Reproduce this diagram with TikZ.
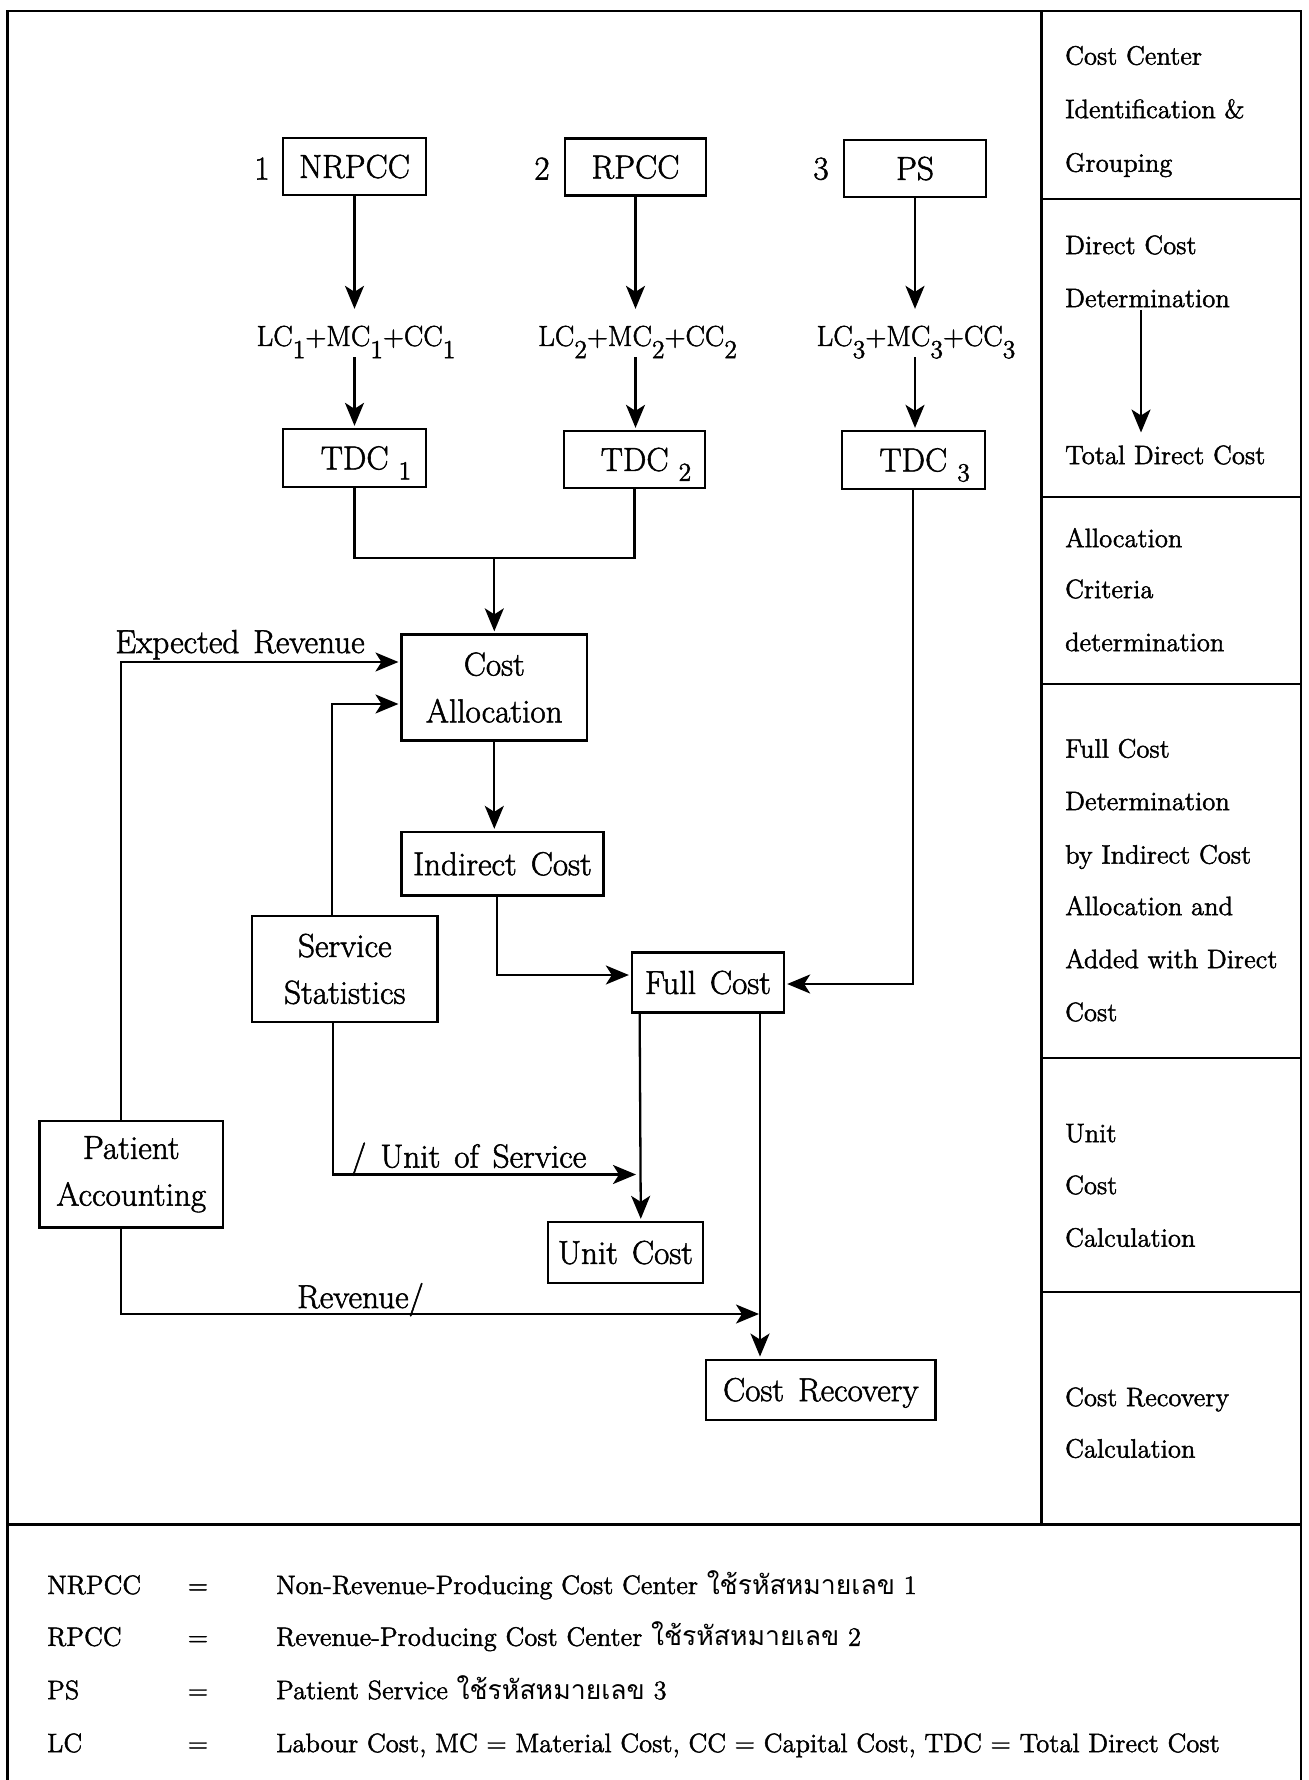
\documentclass[tikz,border=0pt]{standalone}
\usepackage{fontspec}
\setmainfont{Latin Modern Roman}[FakeBold=1.6]
\newfontfamily\thaifont[Script=Thai]{Loma}
\usetikzlibrary{arrows.meta,calc}
\newcommand{\lo}[2][0.42em]{\raisebox{-#1}{\fontsize{13}{13}\selectfont #2}}
\newcommand{\bxfont}{\fontsize{16.6}{23.4}\selectfont\spaceskip=0.42em plus 0.1em minus 0.05em\relax}
\newcommand{\smfont}{\fontsize{13.3}{15}\selectfont}
\newcommand{\fmfont}{\fontsize{14.5}{17}\selectfont}
\begin{document}
\begin{tikzpicture}[x=0.5pt,y=-0.5pt,
 line width=1.15pt,
 box/.style={draw,line width=1.15pt,inner sep=0pt,font=\bxfont,text height=11.4pt,text depth=0pt},
 boxtwo/.style={draw,line width=1.15pt,inner sep=0pt,font=\bxfont,align=center},
 fm/.style={inner sep=0pt,font=\fmfont,minimum height=22pt,text height=12pt,text depth=0pt},
 lbl/.style={inner sep=0pt,font=\bxfont,anchor=base},
 rc/.style={inner sep=0pt,font=\smfont,anchor=base west},
 arr/.style={-{Stealth[length=11.5pt,width=9.5pt,inset=3pt]},shorten >=1pt},
]
\useasboundingbox (0,0) rectangle (1308,1780);
% frame
\draw[line width=1.2pt] (7.5,1780) -- (7.5,11) -- (1301,11) -- (1301,1780);
\draw (1041.5,11) -- (1041.5,1524.5);
\draw[line width=1.2pt] (7.5,1524.5) -- (1301,1524.5);
\foreach \yy in {199,497,684,1058,1292} \draw (1041.5,\yy) -- (1301,\yy);

% top row
\node[box,minimum width=71.5pt,minimum height=28.5pt] (n1) at (354.5,166.5) {NRPCC};
\node[box,minimum width=70.5pt,minimum height=28.5pt] (n2) at (635.5,167) {RPCC};
\node[box,minimum width=71pt,minimum height=28.5pt] (n3) at (915,168.5) {PS};
\node[lbl] (k1) at (262,179.5) {1};
\node[lbl] (k2) at (542,179.5) {2};
\node[lbl] (k3) at (821,179.5) {3};

% formulas
\node[fm] (f1) at (356,334) {LC\lo{1}+MC\lo{1}+CC\lo{1}};
\node[fm] (f2) at (637.6,334) {LC\lo{2}+MC\lo{2}+CC\lo{2}};
\node[fm] (f3) at (916,334) {LC\lo{3}+MC\lo{3}+CC\lo{3}};

% TDC
\node[box,minimum width=71.5pt,minimum height=29pt] (t1) at (354.5,458) {\hspace*{11.5pt}TDC\hspace{0.3em}\lo[0.3em]{1}};
\node[box,minimum width=70.5pt,minimum height=28.5pt] (t2) at (634.5,459.5) {\hspace*{11.5pt}TDC\hspace{0.3em}\lo[0.3em]{2}};
\node[box,minimum width=71.5pt,minimum height=29pt] (t3) at (913.2,460) {\hspace*{11.5pt}TDC\hspace{0.3em}\lo[0.3em]{3}};

% middle boxes
\node[boxtwo,minimum width=92.7pt,minimum height=53pt] (ca) at (494.3,687.5) {Cost\\Allocation};
\node[box,minimum width=101pt,minimum height=31.8pt] (ic) at (502.5,863.8) {Indirect Cost};
\node[box,minimum width=76pt,minimum height=30pt] (fc) at (708,982.5) {Full Cost};
\node[boxtwo,minimum width=92.75pt,minimum height=53pt] (ss) at (344.8,969) {Service\\Statistics};
\node[boxtwo,minimum width=91.7pt,minimum height=53.3pt] (pa) at (131.3,1174.3) {Patient\\Accounting};
\node[box,minimum width=77.5pt,minimum height=30.5pt] (uc) at (625.5,1252.5) {Unit Cost};
\node[box,minimum width=114.75pt,minimum height=30pt] (cr) at (820.8,1389.7) {Cost Recovery};

% labels
\node[lbl] (er) at (240,653) {Expected Revenue};
\node[lbl] (uos) at (468.7,1167.5) {/ Unit of Service};
\node[lbl] (rv) at (360.5,1308) {Revenue/};

% connectors top
\draw[arr] (n1.south) -- (n1.south |- f1.north);
\draw[arr] (n1.south |- f1.south) -- (t1.north);
\draw[arr] (n2.south) -- (n2.south |- f2.north);
\draw[arr] (n2.south |- f2.south) -- (n2.south |- t2.north);
\draw[arr] (n3.south) -- (n3.south |- f3.north);
\draw[arr] (n3.south |- f3.south) -- (n3.south |- t3.north);

\coordinate (jn) at (494.3,558);
\draw (t1.south) |- (jn) -| (t2.south);
\draw[arr] (jn) -- (ca.north);

\draw[arr] ($(pa.north)+(-10.3,0)$) |- ($(ca.west)+(0,-25.5)$);
\draw[arr] ($(ss.north)+(-12.8,0)$) |- ($(ca.west)+(0,16.5)$);
\draw[arr] (ca.south) -- (ca.south |- ic.north);
\draw[arr] ($(ic.south)+(-5.5,0)$) |- ($(fc.west)+(0,-7.5)$);
\draw[arr] (t3.south) |- ($(fc.east)+(0,1.5)$);

\coordinate (usend) at (636,1174.5);
\draw[arr,shorten >=0pt] ($(ss.south)+(-11.8,0)$) |- (usend);
\draw[arr] ($(fc.south west)+(8.8,0)$) -- ($(uc.north)+(15.3,0)$);
\draw[arr] ($(fc.south)+(52,0)$) -- ($(cr.north)+(-60.8,0)$);
\coordinate (revend) at (759,1314);
\draw[arr,shorten >=0pt] ($(pa.south)+(-10.3,0)$) |- (revend);

% right column
\foreach \t/\yy [count=\i] in {Cost Center/55.6, Identification \&/109, Grouping/162.6,
  Direct Cost/245, Determination/298, Total Direct Cost/455,
  Allocation/538, Criteria/589, determination/642,
  Full Cost/748.5, Determination/801, by Indirect Cost/854.5, Allocation and/906, Added with Direct/959, Cost/1012,
  Unit/1133, Cost/1185, Calculation/1237.6,
  Cost Recovery/1397, Calculation/1448.5}
  \node[rc] (r\i) at (1064,\yy+9.1) {\t};
\coordinate (da) at (1141,310);
\coordinate (db) at (1141,432.5);
\draw[arr,shorten >=0pt] (da) -- (db);

% legend
\node[rc] (g1a) at (46,1594) {NRPCC};
\node[rc,anchor=base] (g1b) at (198,1594) {=};
\node[rc] (g1c) at (275,1594) {Non-Revenue-Producing Cost Center {\thaifont ใช้รหัสหมายเลข} 1};
\node[rc] (g2a) at (46,1645.8) {RPCC};
\node[rc,anchor=base] (g2b) at (198,1645.8) {=};
\node[rc] (g2c) at (275,1645.8) {Revenue-Producing Cost Center {\thaifont ใช้รหัสหมายเลข} 2};
\node[rc] (g3a) at (46,1699.1) {PS};
\node[rc,anchor=base] (g3b) at (198,1699.1) {=};
\node[rc] (g3c) at (275,1699.1) {Patient Service {\thaifont ใช้รหัสหมายเลข} 3};
\node[rc] (g4a) at (46,1752.1) {LC};
\node[rc,anchor=base] (g4b) at (198,1752.1) {=};
\node[rc] (g4c) at (275,1752.1) {Labour Cost, MC = Material Cost, CC = Capital Cost, TDC = Total Direct Cost};
\end{tikzpicture}
\end{document}
